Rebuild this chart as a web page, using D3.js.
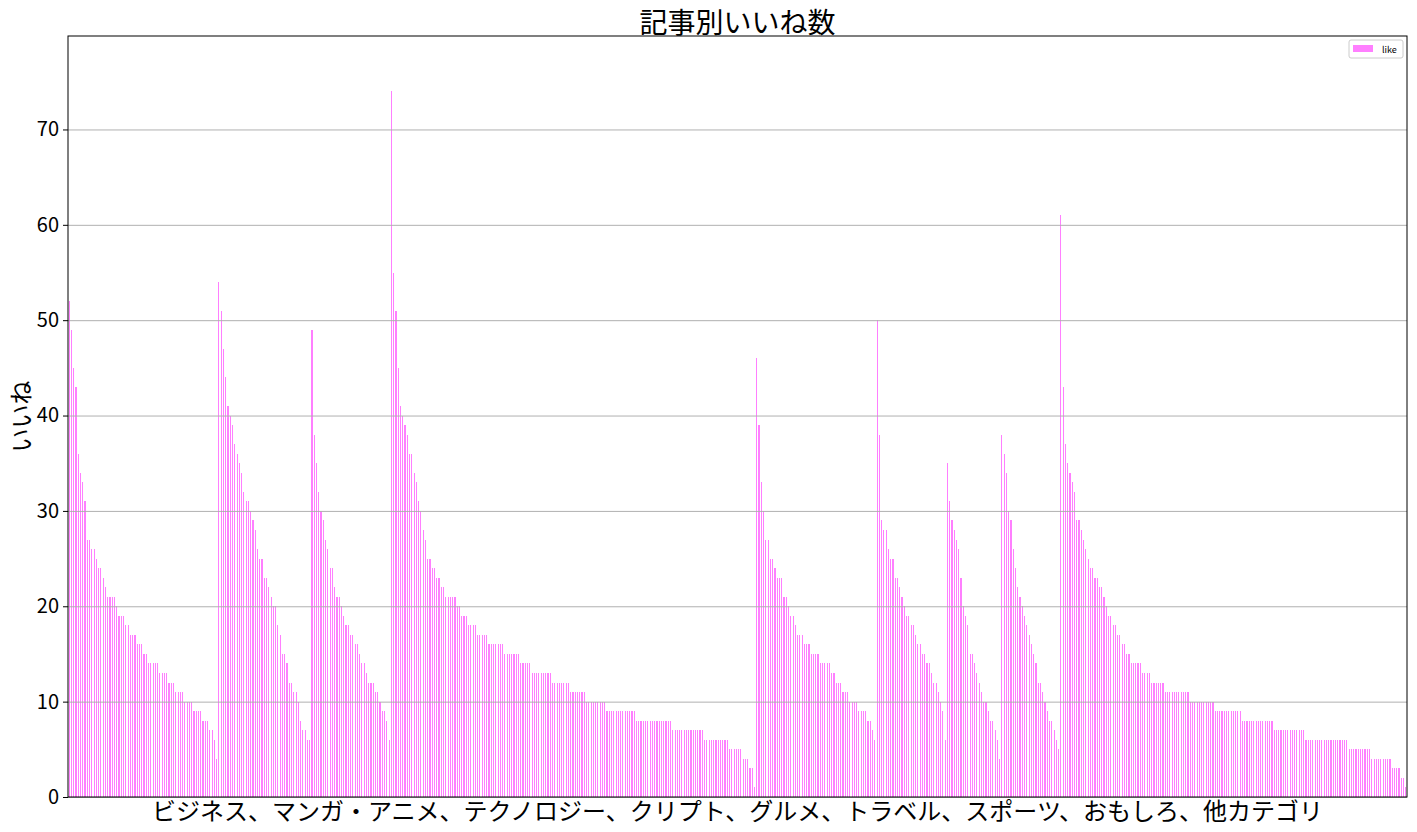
<!doctype html>
<html>
<head>
<meta charset="utf-8">
<script src="https://cdnjs.cloudflare.com/ajax/libs/d3/7.8.5/d3.min.js"></script>
<style>
    body { margin: 0; background: #fff; }
    text { font-family: "Noto Sans CJK JP", "Noto Sans", sans-serif; }
    .bar { shape-rendering: crispEdges; }
    .grid line { stroke: #b0b0b0; stroke-width: 1; }
    .grid path { display: none; }
    .y.axis path { display: none; }
    .y.axis line { stroke: #000; }
    .y.axis text { font-size: 20px; fill: #000; }
</style>
</head>
<body>
<script>
    // categories in plotting order
    var categories = ["ビジネス", "マンガ・アニメ", "テクノロジー", "クリプト", "グルメ", "トラベル", "スポーツ", "おもしろ", "他カテゴリ"];

    // likes per article, each category sorted descending
    var businessLikes = [52,49,45,43,36,34,33,31,27,27,26,26,25,24,24,23,22,21,21,21,21,20,19,19,19,18,18,17,17,17,16,16,16,15,15,14,14,14,14,14,13,13,13,13,12,12,12,11,11,11,11,10,10,10,10,9,9,9,9,8,8,8,7,7,6,4];
    var mangaLikes = [54,51,47,44,41,40,39,37,36,35,34,32,31,31,30,29,28,26,25,25,23,23,22,21,20,20,18,17,15,15,14,12,12,11,11,10,8,7,7,6,6];
    var techLikes = [49,38,35,32,30,29,27,26,24,24,22,21,21,20,19,18,18,17,17,16,16,15,14,14,13,12,12,12,11,11,10,9,9,8,6];
    var cryptoLikes = [74,55,51,45,41,40,39,38,36,36,34,33,31,30,28,27,25,25,24,24,23,23,22,22,21,21,21,21,21,20,
        20,19,19,19,18,18,18,18,17,17,17,17,17,16,16,16,16,16,16,16,15,15,15,15,15,15,15,14,14,14,14,14,
        13,13,13,13,13,13,13,13,13,12,12,12,12,12,12,12,12,11,11,11,11,11,11,11,10,10,10,10,10,10,10,10,10,
        9,9,9,9,9,9,9,9,9,9,9,9,9,8,8,8,8,8,8,8,8,8,8,8,8,8,8,8,8,7,7,7,7,7,7,7,7,7,7,7,7,7,7,
        6,6,6,6,6,6,6,6,6,6,6,5,5,5,5,5,5,4,4,4,3,3,1];
    var gourmetLikes = [46,39,33,30,27,27,25,25,24,23,23,23,21,21,20,19,19,18,17,17,17,16,16,16,15,15,15,15,14,14,14,14,14,13,13,12,12,12,11,11,11,10,10,10,10,9,9,9,9,8,8,7,6];
    var travelLikes = [50,38,29,28,28,26,25,25,23,23,22,21,20,19,19,18,18,17,16,16,15,15,14,14,13,12,12,11,10,9,6];
    var sportsLikes = [35,31,29,28,27,26,23,20,19,18,15,15,14,13,12,11,10,10,9,8,8,7,6,4];
    var funnyLikes = [38,36,34,30,29,26,24,22,21,20,19,18,17,16,15,14,12,12,11,10,9,8,8,7,6,5];
    var otherLikes = [61,43,37,35,34,33,32,29,29,28,27,26,25,24,24,23,23,22,22,21,20,19,19,18,18,17,17,16,16,15,
        15,14,14,14,14,14,13,13,13,13,12,12,12,12,12,12,11,11,11,11,11,11,11,11,11,11,11,
        10,10,10,10,10,10,10,10,10,10,10,9,9,9,9,9,9,9,9,9,9,9,9,
        8,8,8,8,8,8,8,8,8,8,8,8,8,8,7,7,7,7,7,7,7,7,7,7,7,7,7,7,
        6,6,6,6,6,6,6,6,6,6,6,6,6,6,6,6,6,6,6,5,5,5,5,5,5,5,5,5,5,
        4,4,4,4,4,4,4,4,4,3,3,3,3,2,2,1];

    var yTicks = [0, 10, 20, 30, 40, 50, 60, 70];
    var yMax = 79.8;
    var seriesName = "like";
    var barColor = "rgba(255,0,255,0.5)";

    var groups = [businessLikes, mangaLikes, techLikes, cryptoLikes, gourmetLikes, travelLikes, sportsLikes, funnyLikes, otherLikes];
    var rows = [];
    groups.forEach(function(list, ci) {
        list.forEach(function(v) {
            rows.push({i: rows.length, cat: categories[ci], like: v});
        });
    });

    var W = 1417, H = 832;
    var margin = {top: 36, right: 10, bottom: 35, left: 68},
        width = W - margin.left - margin.right,
        height = H - margin.top - margin.bottom;

    var svg = d3.select("body").append("svg")
        .attr("width", W)
        .attr("height", H);

    var plot = svg.append("g")
        .attr("transform", "translate(" + margin.left + "," + margin.top + ")");

    var x = d3.scaleBand()
        .domain(rows.map(function(d) { return d.i; }))
        .range([0, width])
        .paddingInner(0.5)
        .paddingOuter(0.25);

    var y = d3.scaleLinear()
        .domain([0, yMax])
        .range([height, 0]);

    plot.selectAll("rect.bar")
        .data(rows)
        .enter().append("rect")
        .attr("class", "bar")
        .attr("x", function(d) { return x(d.i); })
        .attr("width", x.bandwidth())
        .attr("y", function(d) { return y(d.like); })
        .attr("height", function(d) { return y(0) - y(d.like); })
        .style("fill", barColor);

    // grid on top of bars, like matplotlib
    plot.append("g")
        .attr("class", "grid")
        .call(d3.axisLeft(y).tickValues(yTicks).tickSize(-width).tickFormat(""));

    plot.append("g")
        .attr("class", "y axis")
        .call(d3.axisLeft(y).tickValues(yTicks).tickSize(5).tickPadding(4));

    plot.append("rect")
        .attr("width", width)
        .attr("height", height)
        .style("fill", "none")
        .style("stroke", "#000")
        .style("stroke-width", 1);

    // title and labels
    svg.append("text")
        .attr("x", margin.left + width / 2)
        .attr("y", 32.5)
        .attr("text-anchor", "middle")
        .style("font-size", "28px")
        .text("記事別いいね数");

    svg.append("text")
        .attr("x", margin.left + width / 2)
        .attr("y", 820)
        .attr("text-anchor", "middle")
        .style("font-size", "24px")
        .text(categories.join("、"));

    svg.append("text")
        .attr("transform", "translate(30," + (margin.top + height / 2) + ") rotate(-90)")
        .attr("text-anchor", "middle")
        .style("font-size", "24px")
        .text("いいね");

    // legend
    var leg = svg.append("g").attr("transform", "translate(1349,40)");
    leg.append("rect")
        .attr("width", 54).attr("height", 18).attr("rx", 2)
        .style("fill", "#fff").style("stroke", "#ccc");
    leg.append("rect")
        .attr("x", 4).attr("y", 5).attr("width", 20).attr("height", 7)
        .style("fill", barColor);
    leg.append("text")
        .attr("x", 33).attr("y", 12.5)
        .style("font-size", "9px")
        .text(seriesName);
</script>
</body>
</html>
